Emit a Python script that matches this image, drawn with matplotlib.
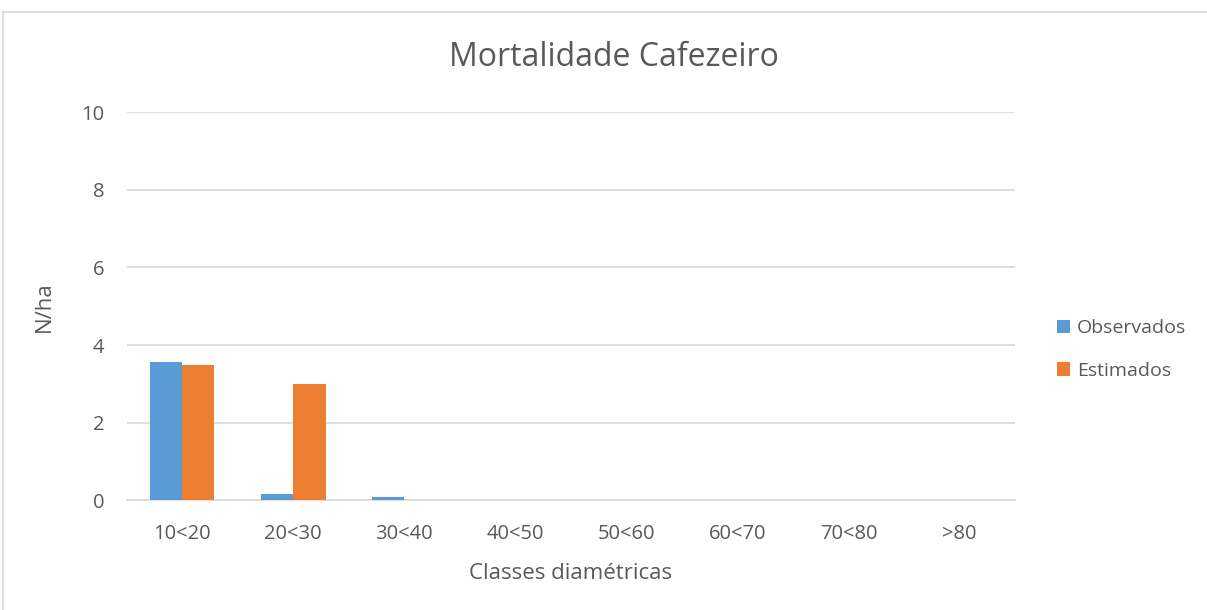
import matplotlib
matplotlib.use("Agg")
import matplotlib.pyplot as plt
import numpy as np
from matplotlib.patches import Rectangle

categories = ["10<20", "20<30", "30<40", "40<50", "50<60", "60<70", "70<80", ">80"]
observados = [3.56, 0.16, 0.08, 0, 0, 0, 0, 0]
estimados = [3.48, 3.0, 0, 0, 0, 0, 0, 0]
yticks = [0, 2, 4, 6, 8, 10]

plt.rcParams['font.family'] = ['Open Sans', 'DejaVu Sans']
fig = plt.figure(figsize=(12.07, 6.10), dpi=100)
ax = fig.add_axes([0.105, 0.180, 0.736, 0.636])

x = np.arange(len(categories))
w = 0.29
ax.bar(x - w/2, observados, w, color="#5B9BD5", label="Observados", zorder=3)
ax.bar(x + w/2, estimados, w, color="#ED7D31", label="Estimados", zorder=3)

ax.set_xlim(-0.5, len(categories) - 0.5)
ax.set_ylim(0, 10)
ax.set_yticks(yticks)
ax.set_xticks(x)
ax.set_xticklabels(categories)
ax.yaxis.grid(True, color="#D9D9D9", linewidth=1.2, zorder=0)
for s in ["top", "right", "left"]:
    ax.spines[s].set_visible(False)
ax.spines["bottom"].set_color("#D9D9D9")
ax.spines["bottom"].set_linewidth(1.2)
ax.tick_params(axis="both", length=0, labelsize=14.5, colors="#595959")
ax.tick_params(axis="x", pad=17)
ax.tick_params(axis="y", pad=16)
ax.set_xlabel("Classes diamétricas", fontsize=16, color="#595959", labelpad=14)
ax.set_ylabel("N/ha", fontsize=16, color="#595959", labelpad=19)
fig.text(0.509, 0.905, "Mortalidade Cafezeiro", ha="center", va="center", fontsize=23, color="#595959")

leg = fig.legend(loc="center left", bbox_to_anchor=(0.861, 0.427), frameon=False,
                 fontsize=14, handlelength=0.7, handleheight=0.7, handletextpad=0.35,
                 labelspacing=1.25, labelcolor="#595959")

fig.patches.append(Rectangle((0.0025, -0.01), 1.0, 0.99, transform=fig.transFigure,
                             fill=False, edgecolor="#D9D9D9", linewidth=1.2))

fig.savefig("out.png", dpi=100)
